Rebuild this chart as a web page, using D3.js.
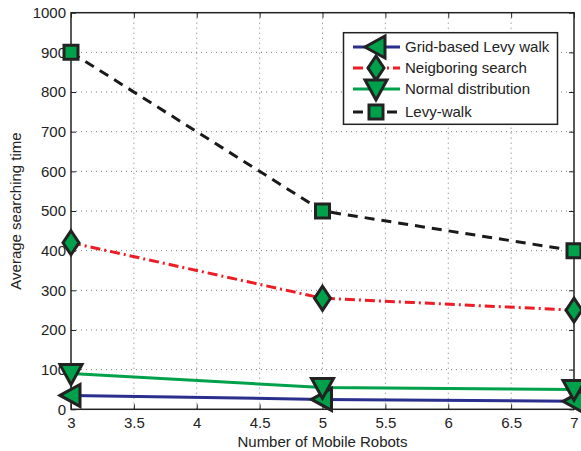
<!DOCTYPE html>
<html>
<head>
<meta charset="utf-8">
<script src="https://cdn.jsdelivr.net/npm/d3@7"></script>
<style>
body { margin: 0; background: #fff; }
svg text { font-family: "Liberation Sans", Arial, sans-serif; fill: #222; }
</style>
</head>
<body>
<svg id="chart"></svg>
<script>
var robots = [3, 5, 7];
var gridLevy = [35, 25, 20];
var neighboring = [420, 280, 250];
var normalDist = [90, 55, 50];
var levyWalk = [900, 500, 400];
var xTicks = [3, 3.5, 4, 4.5, 5, 5.5, 6, 6.5, 7];
var yTicks = [0, 100, 200, 300, 400, 500, 600, 700, 800, 900, 1000];

var width = 581, height = 451;
var plotL = 71, plotR = 574, plotT = 12.7, plotB = 409.3;
var markerFill = "#00a14b", markerStroke = "#222";
var fontSize = "15px";

var series = [
    {name: "Grid-based Levy walk", values: gridLevy, color: "#2a2f8e", dash: null, marker: "left"},
    {name: "Neigboring search", values: neighboring, color: "#ee1c25", dash: "10,4,2,4", marker: "diamond"},
    {name: "Normal distribution", values: normalDist, color: "#00a14b", dash: null, marker: "down"},
    {name: "Levy-walk", values: levyWalk, color: "#1a1a1a", dash: "10,7", marker: "square"}
];

var svg = d3.select("svg#chart")
    .attr("width", width)
    .attr("height", height);

var x = d3.scaleLinear().domain([3, 7]).range([plotL, plotR]);
var y = d3.scaleLinear().domain([0, 1000]).range([plotB, plotT]);

// dotted grid
svg.append("g").selectAll("line").data(xTicks.slice(1, -1)).enter().append("line")
    .attr("x1", function(d) { return x(d); }).attr("x2", function(d) { return x(d); })
    .attr("y1", plotT).attr("y2", plotB)
    .style("stroke", "#777").style("stroke-width", 1).style("stroke-dasharray", "1,4");
svg.append("g").selectAll("line").data(yTicks.slice(1, -1)).enter().append("line")
    .attr("x1", plotL).attr("x2", plotR)
    .attr("y1", function(d) { return y(d); }).attr("y2", function(d) { return y(d); })
    .style("stroke", "#777").style("stroke-width", 1).style("stroke-dasharray", "1,4");

// axes with inward ticks
var axisStyle = function(g) {
    g.select(".domain").remove();
    g.selectAll("line").style("stroke", "#222");
    g.selectAll("text").style("font-size", fontSize).style("fill", "#222")
        .style("font-family", "Liberation Sans, Arial, sans-serif");
};
svg.append("g").attr("transform", "translate(0," + plotB + ")")
    .call(d3.axisBottom(x).tickValues(xTicks).tickFormat(d3.format("")).tickSizeInner(-5).tickPadding(8))
    .call(axisStyle);
svg.append("g").attr("transform", "translate(" + plotL + ",0)")
    .call(d3.axisLeft(y).tickValues(yTicks).tickFormat(d3.format("d")).tickSizeInner(-5).tickPadding(5))
    .call(axisStyle);
svg.append("g").attr("transform", "translate(0," + plotT + ")")
    .call(d3.axisTop(x).tickValues(xTicks).tickFormat("").tickSizeInner(-5))
    .call(axisStyle);
svg.append("g").attr("transform", "translate(" + plotR + ",0)")
    .call(d3.axisRight(y).tickValues(yTicks).tickFormat("").tickSizeInner(-5))
    .call(axisStyle);

svg.append("rect")
    .attr("x", plotL).attr("y", plotT)
    .attr("width", plotR - plotL).attr("height", plotB - plotT)
    .style("fill", "none").style("stroke", "#222").style("stroke-width", 1.5);

var markerPath = function(type) {
    if (type == "left") return "M-11,0L9,-11L9,11Z";
    if (type == "down") return "M-11,-9L11,-9L0,11Z";
    if (type == "diamond") return "M0,-12L8,0L0,12L-8,0Z";
    return "M-7,-7L7,-7L7,7L-7,7Z";
};

var line = d3.line()
    .x(function(d, i) { return x(robots[i]); })
    .y(function(d) { return y(d); });

series.forEach(function(s) {
    svg.append("path")
        .attr("d", line(s.values))
        .style("fill", "none")
        .style("stroke", s.color)
        .style("stroke-width", 3)
        .style("stroke-dasharray", s.dash);
});
series.forEach(function(s) {
    svg.append("g").selectAll("path").data(s.values).enter().append("path")
        .attr("transform", function(d, i) { return "translate(" + x(robots[i]) + "," + y(d) + ")"; })
        .attr("d", markerPath(s.marker))
        .style("fill", markerFill)
        .style("stroke", markerStroke)
        .style("stroke-width", 3)
        .style("stroke-linejoin", "miter");
});

// legend
var legend = svg.append("g");
legend.append("rect")
    .attr("x", 343.5).attr("y", 32.7).attr("width", 214).attr("height", 91.6)
    .style("fill", "#fff").style("stroke", "#222").style("stroke-width", 1.5);
var legendY = [47, 68, 89, 112];
series.forEach(function(s, i) {
    var ly = legendY[i];
    legend.append("line")
        .attr("x1", 353).attr("x2", 400).attr("y1", ly).attr("y2", ly)
        .style("stroke", s.color).style("stroke-width", 3)
        .style("stroke-dasharray", s.dash);
    legend.append("path")
        .attr("transform", "translate(376," + ly + ")")
        .attr("d", markerPath(s.marker))
        .style("fill", markerFill).style("stroke", markerStroke).style("stroke-width", 3);
    legend.append("text")
        .attr("x", 405).attr("y", ly + 5)
        .style("font-size", fontSize)
        .text(s.name);
});

svg.append("text")
    .attr("x", (plotL + plotR) / 2).attr("y", 447)
    .attr("text-anchor", "middle")
    .style("font-size", fontSize)
    .text("Number of Mobile Robots");
svg.append("text")
    .attr("transform", "translate(21," + (plotT + plotB) / 2 + ") rotate(-90)")
    .attr("text-anchor", "middle")
    .style("font-size", fontSize)
    .text("Average searching time");
</script>
</body>
</html>
